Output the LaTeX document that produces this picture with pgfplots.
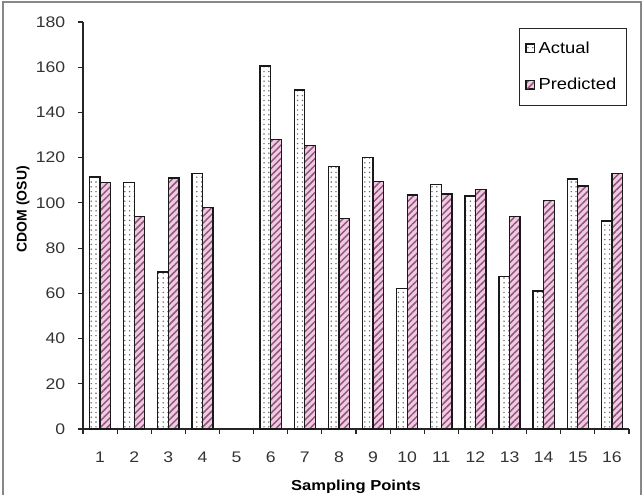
\documentclass[border=0pt]{standalone}
\usepackage{fontspec}
\setmainfont{Liberation Sans}[FakeStretch=1.15]
\newfontfamily\yfont{Liberation Sans}
\usepackage{pgfplots}
\pgfplotsset{compat=1.18}
\usetikzlibrary{patterns.meta}
\definecolor{pinkfill}{RGB}{236,204,224}
\definecolor{pinkline}{RGB}{150,80,122}
\definecolor{framegray}{RGB}{135,135,135}
\begin{document}
\begin{tikzpicture}
\useasboundingbox (-62.25pt,-48.75pt) rectangle (420pt,321.75pt);
\draw[framegray, line width=1.5pt] (-60pt,-60pt) -- (-60pt,320.6pt) -- (418.5pt,320.6pt) -- (418.5pt,-60pt);
\begin{axis}[
  at={(0pt,0pt)}, anchor=south west,
  scale only axis, width=409.5pt, height=305.25pt,
  xmin=0.5, xmax=16.5, ymin=0, ymax=180,
  axis lines*=left,
  axis line style={black!85, line width=0.8pt},
  ybar=0pt, bar width=0.31,
  xtick={1,...,16},
  minor xtick={0.5,1.5,...,16.5},
  ytick={0,20,...,180},
  tick align=outside,
  major tick length=3.75pt, minor tick length=3.5pt,
  tick style={black!85, line width=0.8pt},
  major x tick style={draw=none},
  /pgf/number format/assume math mode=true,
  ticklabel style={font=\fontsize{11.5}{13}\selectfont, text=black!80},
  xticklabel style={anchor=base, yshift=-21.5pt},
  yticklabel style={anchor=east, xshift=-6pt},
  xlabel={\fontsize{10.8}{12}\selectfont\bfseries Sampling Points},
  xlabel style={at={(axis description cs:0.5,-0.15)}, anchor=base},
  ylabel={\yfont\fontsize{10.5}{12}\selectfont\bfseries CDOM (OSU)},
  ylabel style={at={(axis description cs:-0.11,0.54)}, anchor=center},
  legend cell align=left,
  legend style={at={(axis description cs:0.996,0.985)}, anchor=north east,
    draw=black!85, line width=0.8pt, font=\fontsize{12}{14}\selectfont,
    row sep=13pt, inner xsep=5pt, inner ysep=8pt,
    nodes={inner xsep=2.5pt}},
  legend image code/.code={\draw[#1, line width=0.6pt] (0pt,-3pt) rectangle (6.5pt,3.5pt);},
]
\addplot[draw=black!90, line width=1pt, preaction={fill=white},
  pattern={Dots[distance=3.6pt,radius=0.6pt]}, pattern color=black!60]
  coordinates {(1,111.5) (2,109) (3,69.5) (4,113) (6,160.5) (7,150) (8,116) (9,120)
    (10,62) (11,108) (12,103) (13,67.5) (14,61) (15,110.5) (16,92)};
\addplot[draw=black!90, line width=1pt, preaction={fill=pinkfill},
  pattern={Lines[angle=45,distance=3.6pt,line width=1.1pt]}, pattern color=pinkline]
  coordinates {(1,109) (2,94) (3,111) (4,98) (6,128) (7,125.5) (8,93) (9,109.5)
    (10,103.5) (11,104) (12,106) (13,94) (14,101) (15,107.5) (16,113)};
\legend{Actual, Predicted}
\end{axis}
\end{tikzpicture}
\end{document}
